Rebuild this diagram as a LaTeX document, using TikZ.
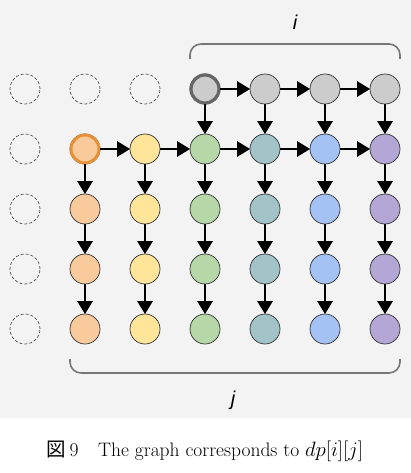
\documentclass[tikz,border=0pt]{standalone}
\usepackage{fontspec}
\newfontfamily\cjk{Noto Sans CJK JP}
\newfontfamily\lblfont{Liberation Sans}
\usetikzlibrary{arrows.meta}
\definecolor{bg}{HTML}{F3F3F3}
\definecolor{cgray}{HTML}{CCCCCC}
\definecolor{corange}{HTML}{F9CB9C}
\definecolor{cyellow}{HTML}{FFE599}
\definecolor{cgreen}{HTML}{B6D7A8}
\definecolor{cteal}{HTML}{A2C4C9}
\definecolor{cblue}{HTML}{A4C2F4}
\definecolor{cpurple}{HTML}{B4A7D6}
\definecolor{hlorange}{HTML}{E69138}
\definecolor{hlgray}{HTML}{666666}
\definecolor{brace}{HTML}{777777}
\tikzset{
  cell/.style={circle, minimum size=30pt, inner sep=0pt, draw=black!80, line width=0.7pt},
  empty/.style={circle, minimum size=30pt, inner sep=0pt, draw=black!70, line width=0.7pt, dash pattern=on 3pt off 2pt},
  arr/.style={line width=2.6pt, -{Triangle[length=13pt,width=15pt]}, shorten >=-0.5pt},
  bracket/.style={draw=brace, line width=1.6pt, rounded corners=11pt},
}
\begin{document}
\begin{tikzpicture}[x=1pt,y=-1pt]
\fill[bg] (0,0) rectangle (411,418);
\useasboundingbox (0,0) rectangle (411,473);
% empty cells
\foreach \c in {1,2,3} { \node[empty] (e0\c) at ({25+60*(\c-1)},89) {}; }
\foreach \r in {1,2,3,4} { \node[empty] (er\r) at (25,{89+60*\r}) {}; }
% top row gray
\foreach \c in {4,5,6,7} { \node[cell, fill=cgray] (n0-\c) at ({25+60*(\c-1)},89) {}; }
\node[cell, fill=cgray, draw=hlgray, line width=3.2pt, minimum size=28pt] at (n0-4) {};
% colored columns
\foreach \c/\col in {2/corange,3/cyellow,4/cgreen,5/cteal,6/cblue,7/cpurple} {
  \foreach \r in {1,2,3,4} {
    \node[cell, fill=\col] (n\r-\c) at ({25+60*(\c-1)},{89+60*\r}) {};
  }
}
\node[cell, fill=corange, draw=hlorange, line width=3pt, minimum size=28pt] at (n1-2) {};
% horizontal arrows
\foreach \a/\b in {4/5,5/6,6/7} { \draw[arr] (n0-\a) -- (n0-\b); }
\foreach \a/\b in {2/3,3/4,4/5,5/6,6/7} { \draw[arr] (n1-\a) -- (n1-\b); }
% vertical arrows
\foreach \c in {4,5,6,7} { \draw[arr] (n0-\c) -- (n1-\c); }
\foreach \c in {2,3,4,5,6,7} {
  \foreach \a/\b in {1/2,2/3,3/4} { \draw[arr] (n\a-\c) -- (n\b-\c); }
}
% brackets
\coordinate (ta) at (190,59); \coordinate (tb) at (400,59);
\draw[bracket] (ta) |- (295,44) -| (tb);
\coordinate (ba) at (70,359); \coordinate (bb) at (400,359);
\draw[bracket] (ba) |- (235,373) -| (bb);
\node[font=\lblfont\itshape\fontsize{20}{20}\selectfont] (li) at (295,22) {i};
\node[font=\lblfont\itshape\fontsize{20}{20}\selectfont] (lj) at (233,400) {j};
% caption
\node[font=\fontsize{19.5}{21}\selectfont, anchor=base] (cap) at (205,456) {{\cjk 図}\,9\quad The graph corresponds to $dp[i][j]$};
\end{tikzpicture}
\end{document}
